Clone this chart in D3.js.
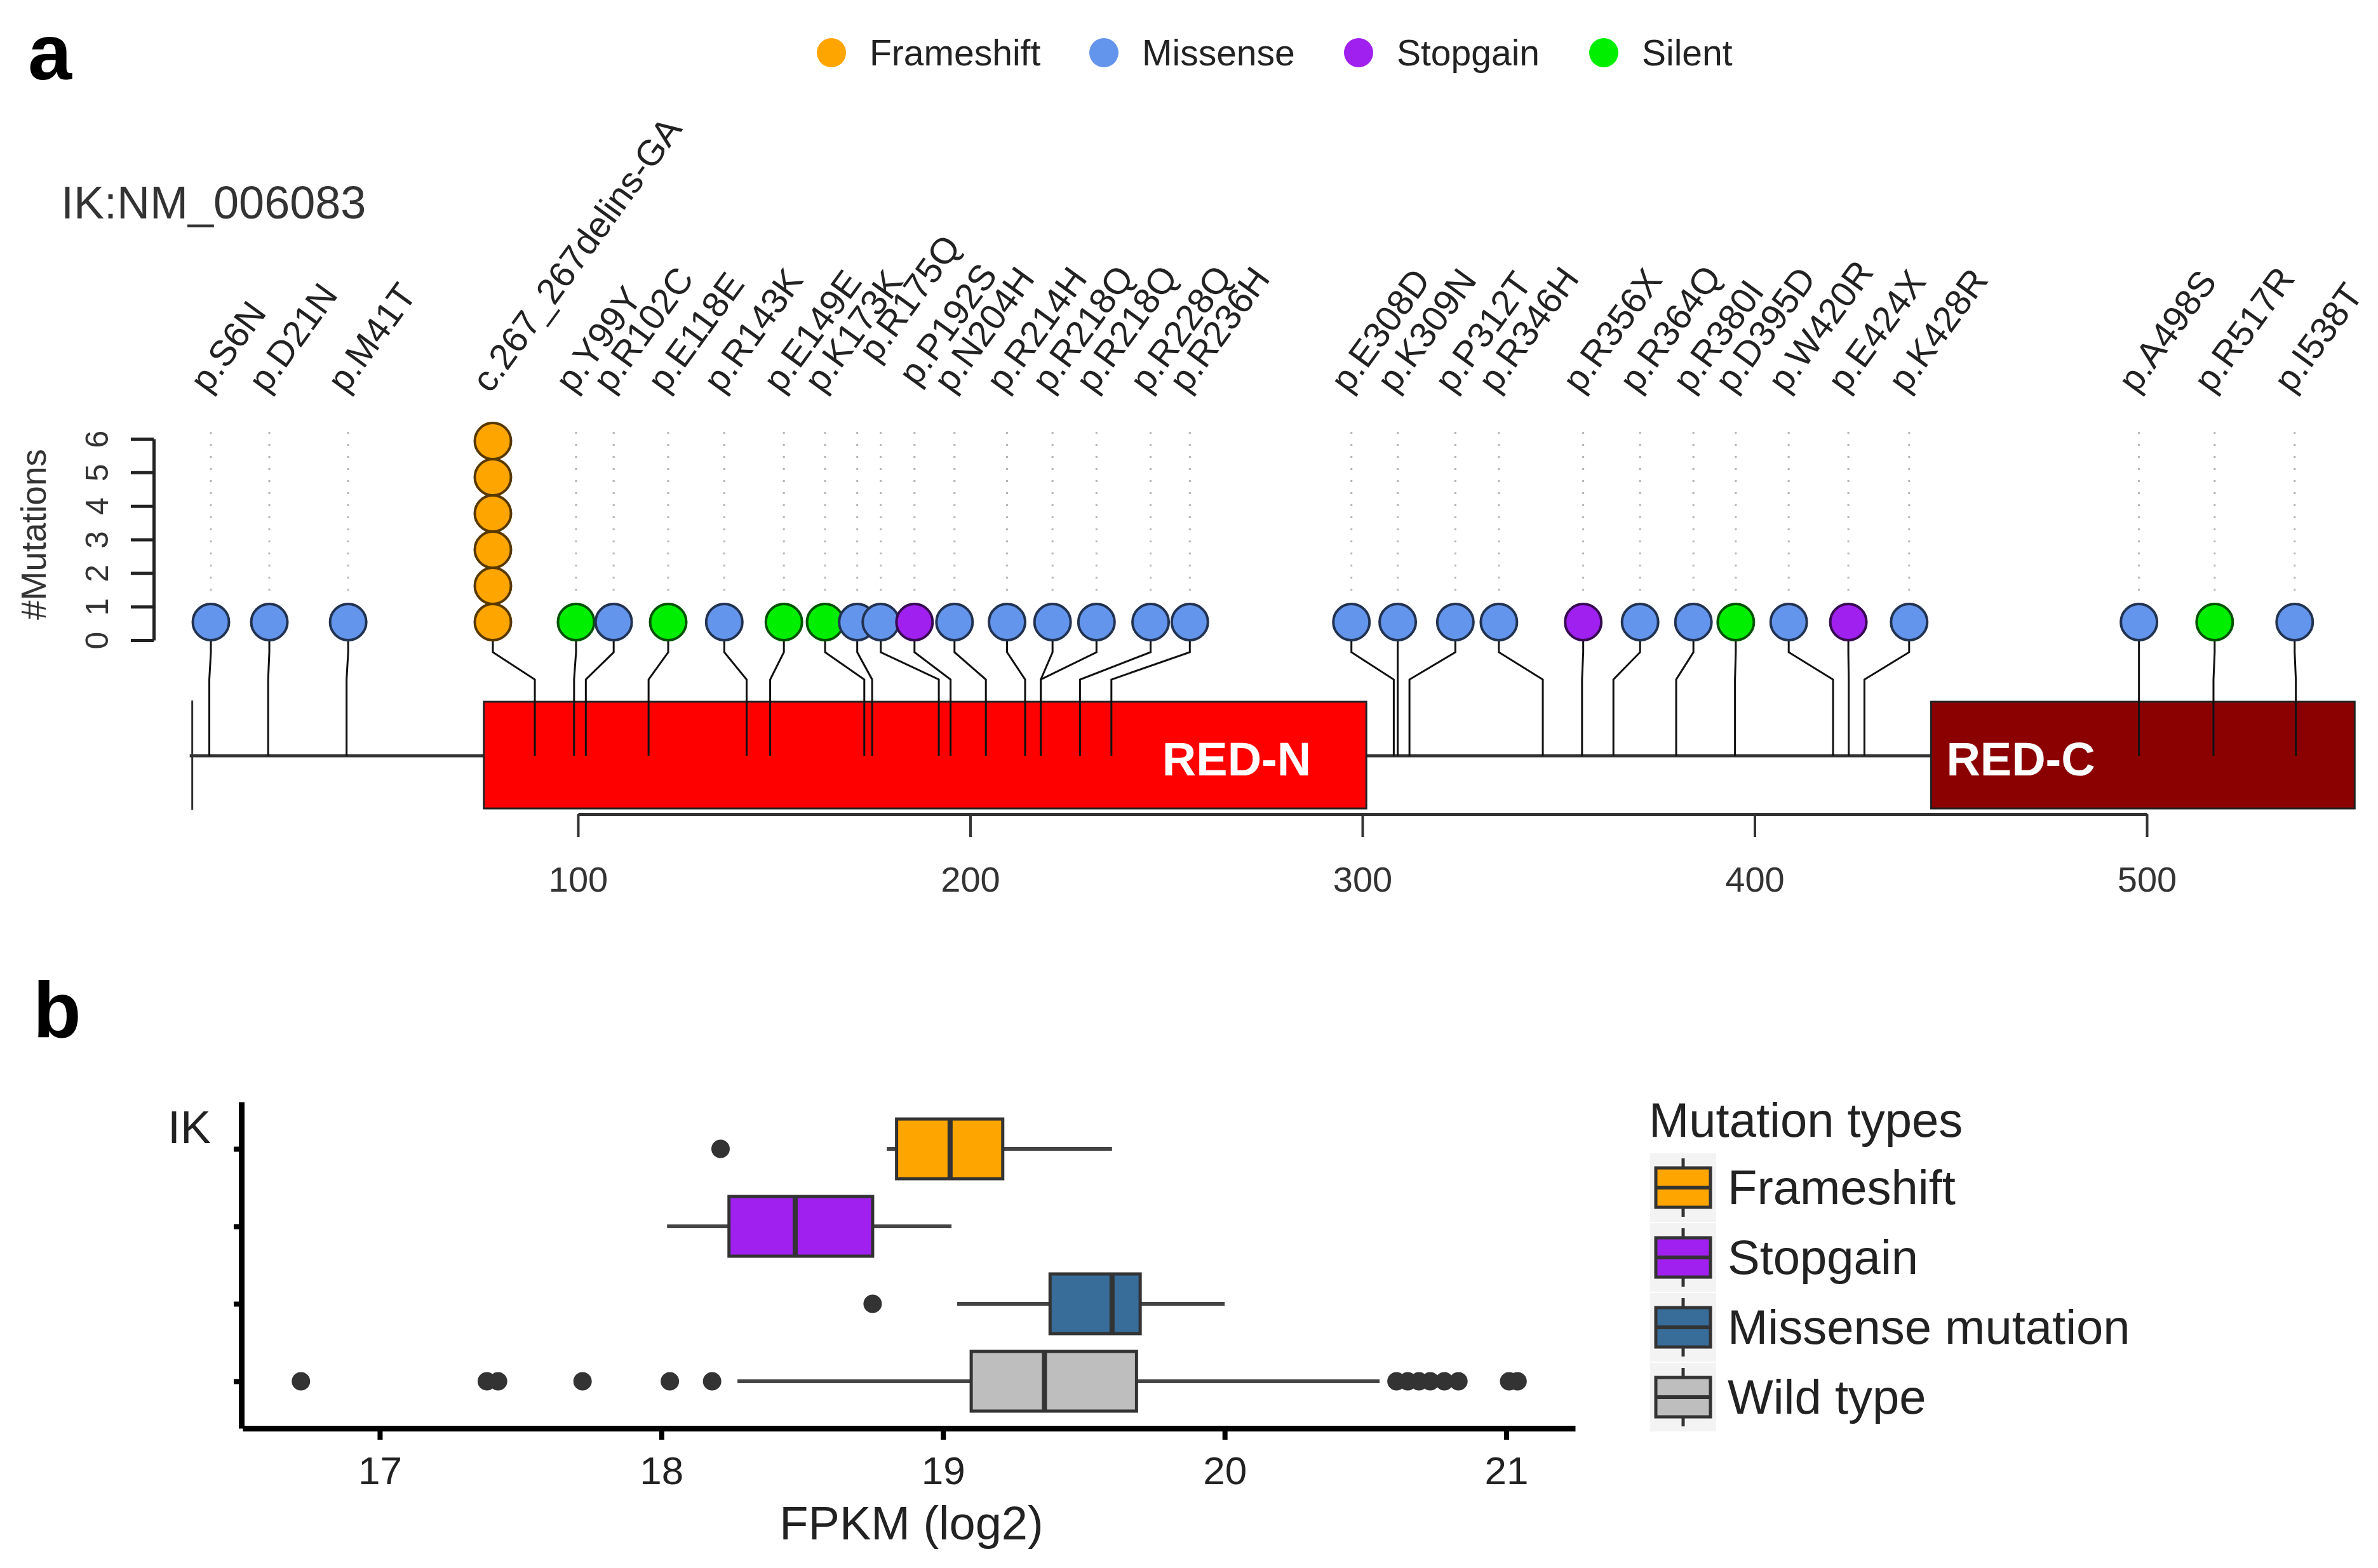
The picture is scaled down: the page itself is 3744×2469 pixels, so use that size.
<!DOCTYPE html>
<html><head><meta charset="utf-8">
<script src="https://cdn.jsdelivr.net/npm/d3@7/dist/d3.min.js"></script>
<style>body{margin:0;background:#fff}text{font-family:"Liberation Sans",Arial,Helvetica,sans-serif}</style>
</head><body>
<svg id="chart" width="3744" height="2469" xmlns="http://www.w3.org/2000/svg"></svg>
<script>
// ================= DATA : panel a (lollipop) =================
const typeNames  = ["Frameshift", "Missense", "Stopgain", "Silent"];
const typeColors = ["#FFA500", "#6495ED", "#A020F0", "#00EE00"];

const mutLabels = ["p.S6N","p.D21N","p.M41T","c.267_267delins-GA","p.Y99Y","p.R102C","p.E118E","p.R143K",
  "p.E149E","p.K173K","p.R175Q","","p.P192S","p.N204H","p.R214H","p.R218Q","p.R218Q","p.R228Q","p.R236H",
  "p.E308D","p.K309N","p.P312T","p.R346H","p.R356X","p.R364Q","p.R380I","p.D395D","p.W420R","p.E424X",
  "p.K428R","p.A498S","p.R517R","p.I538T"];
const mutTypes = ["Missense","Missense","Missense","Frameshift","Silent","Missense","Silent","Missense",
  "Silent","Silent","Missense","Missense","Stopgain","Missense","Missense","Missense","Missense","Missense","Missense",
  "Missense","Missense","Missense","Missense","Stopgain","Missense","Missense","Silent","Missense","Stopgain",
  "Missense","Missense","Silent","Missense"];
// residue where the stem meets the protein
const mutPositions = [6,21,41,89,99,102,118,143,149,173,175,192,195,204,214,218,218,228,236,
  308,309,312,346,356,364,380,395,420,424,428,498,517,538];
// residue column where the (de-overlapped) lollipop head is drawn
const mutColumns = [6.4,21.3,41.4,78.3,99.5,109.1,123,137.3,152.5,163,171.2,177.2,185.8,196,209.4,221,232.2,246,256,
  297.2,309,323.7,334.8,356.3,370.8,384.4,395.2,408.7,423.9,439.4,498,517.3,537.7];
const mutCounts = [1,1,1,6,1,1,1,1,1,1,1,1,1,1,1,1,1,1,1,1,1,1,1,1,1,1,1,1,1,1,1,1,1];

const domainNames = ["RED-N", "RED-C"];
const domainStart = [76, 445];
const domainEnd   = [301, 553];
const domainColors = ["#FF0000", "#8B0000"];
const proteinStart = 1, proteinEnd = 553;
const countTicks = [0,1,2,3,4,5,6];
const residueTicks = [100,200,300,400,500];
const transcriptName = "IK:NM_006083";

// ================= DATA : panel b (boxplot) =================
const boxGroups  = ["Frameshift", "Stopgain", "Missense mutation", "Wild type"];
const boxColors  = ["#FFA500", "#A020F0", "#386C99", "#BEBEBE"];
const whiskerLow = [18.80, 18.02, 19.05, 18.27];
const boxQ1      = [18.835, 18.24, 19.38, 19.10];
const boxMedian  = [19.025, 18.475, 19.60, 19.36];
const boxQ3      = [19.212, 18.75, 19.70, 19.687];
const whiskerHigh= [19.60, 19.03, 20.00, 20.55];
const boxOutliers = [
  [18.21],
  [],
  [18.75],
  [16.72,17.38,17.42,17.72,18.03,18.18,20.61,20.65,20.69,20.73,20.78,20.83,21.01,21.04]
];
const fpkmTicks = [17,18,19,20,21];
const geneName = "IK";

// ================= DRAWING =================
const svg = d3.select("#chart");
const FONT = '"Liberation Sans",Arial,Helvetica,sans-serif';

// panel letters
svg.append("text").attr("x", 44).attr("y", 125).attr("font-size", 124).attr("font-weight", "bold").text("a");
svg.append("text").attr("x", 52).attr("y", 1633).attr("font-size", 124).attr("font-weight", "bold").text("b");

// ---------- panel a ----------
const xAA  = d3.scaleLinear().domain([100, 500]).range([910, 3380]);
const yCnt = d3.scaleLinear().domain([0, 6]).range([1008, 691]);
const color = d3.scaleOrdinal().domain(typeNames).range(typeColors);
const R = 28.5;
const backboneY = 1190, boxTop = 1105, boxBot = 1273;
const bendY1 = 1027, bendY2 = 1070;
const labelY = 621, labelAngle = 54;

// top legend
const legA = svg.append("g");
const legX = [1309, 1738, 2139, 2525];
typeNames.forEach((t, i) => {
  legA.append("circle").attr("cx", legX[i]).attr("cy", 83).attr("r", 23).attr("fill", color(t));
  legA.append("text").attr("x", legX[i] + 60).attr("y", 103).attr("font-size", 57).attr("fill", "#222").text(t);
});

svg.append("text").attr("x", 96).attr("y", 344).attr("font-size", 72).attr("fill", "#333").text(transcriptName);

// y axis (#Mutations)
const yAxA = svg.append("g").attr("transform", "translate(242,0)")
  .call(d3.axisLeft(yCnt).tickValues(countTicks).tickSize(36).tickSizeOuter(0).tickFormat(d3.format("d")));
yAxA.select(".domain").attr("stroke", "#222").attr("stroke-width", 5);
yAxA.selectAll(".tick line").attr("stroke", "#222").attr("stroke-width", 5);
yAxA.selectAll(".tick text").attr("transform", "rotate(-90)").attr("x", 0).attr("y", -72).attr("dy", 0)
  .attr("text-anchor", "middle").attr("font-size", 50).attr("fill", "#333").attr("font-family", FONT);
svg.append("text").attr("transform", `translate(72,${(yCnt(0) + yCnt(6)) / 2 - 8}) rotate(-90)`)
  .attr("text-anchor", "middle").attr("font-size", 55).attr("fill", "#333").text("#Mutations");

// backbone
svg.append("line").attr("x1", xAA(proteinStart)).attr("x2", xAA(proteinEnd))
  .attr("y1", backboneY).attr("y2", backboneY).attr("stroke", "#333").attr("stroke-width", 5);
svg.append("line").attr("x1", xAA(proteinStart) + 4).attr("x2", xAA(proteinStart) + 4)
  .attr("y1", boxTop - 2).attr("y2", boxBot + 2).attr("stroke", "#333").attr("stroke-width", 3);

// domains
domainNames.forEach((d, i) => {
  svg.append("rect").attr("x", xAA(domainStart[i])).attr("y", boxTop)
    .attr("width", xAA(domainEnd[i]) - xAA(domainStart[i])).attr("height", boxBot - boxTop)
    .attr("fill", domainColors[i]).attr("stroke", "#222").attr("stroke-width", 3);
});

// bottom residue axis
const xAxA = svg.append("g").attr("transform", "translate(0,1282)")
  .call(d3.axisBottom(xAA).tickValues(residueTicks).tickSize(36).tickSizeOuter(0).tickPadding(46));
xAxA.select(".domain").attr("stroke", "#333").attr("stroke-width", 5);
xAxA.selectAll(".tick line").attr("stroke", "#333").attr("stroke-width", 4);
xAxA.selectAll(".tick text").attr("font-size", 56).attr("fill", "#333").attr("font-family", FONT);

// build mutation records
const muts = mutLabels.map((l, i) => ({label: l, type: mutTypes[i], pos: mutPositions[i], col: mutColumns[i], n: mutCounts[i]}));
const labelNudge = {"p.R175Q": 59, "p.P192S": 13};

// dotted guides
muts.forEach(m => {
  const top = yCnt(0) - m.n * 2 * R;
  if (top - 17 > 680) {
    svg.append("line").attr("x1", xAA(m.col)).attr("x2", xAA(m.col)).attr("y1", 680).attr("y2", top - 17)
      .attr("stroke", "#b5b5b5").attr("stroke-width", 3).attr("stroke-dasharray", "3,16");
  }
});

// stems
muts.forEach(m => {
  const xc = xAA(m.col), xp = xAA(m.pos);
  const p = d3.path();
  p.moveTo(xc, yCnt(0)); p.lineTo(xc, bendY1); p.lineTo(xp, bendY2); p.lineTo(xp, backboneY);
  svg.append("path").attr("d", p.toString()).attr("fill", "none").attr("stroke", "#111").attr("stroke-width", 3);
});

// heads
muts.forEach(m => {
  d3.range(1, m.n + 1).forEach(k => {
    svg.append("circle").attr("cx", xAA(m.col)).attr("cy", yCnt(0) - (k - 0.5) * 2 * R).attr("r", R)
      .attr("fill", color(m.type)).attr("stroke", d3.color(color(m.type)).darker(3)).attr("stroke-width", 4);
  });
});

// labels
const rad = labelAngle * Math.PI / 180;
muts.forEach(m => {
  if (!m.label) return;
  const s = labelNudge[m.label] || 0;
  const ax = xAA(m.col) - 4 + s * Math.cos(rad), ay = labelY - s * Math.sin(rad);
  svg.append("text").attr("transform", `translate(${ax},${ay}) rotate(${-labelAngle})`)
    .attr("font-size", 57).attr("fill", "#222").text(m.label);
});

// domain labels
svg.append("text").attr("x", xAA(domainEnd[0]) - 87).attr("y", 1221).attr("text-anchor", "end")
  .attr("font-size", 74).attr("font-weight", "bold").attr("fill", "#fff").text(domainNames[0]);
svg.append("text").attr("x", xAA(domainStart[1]) + 24).attr("y", 1221).attr("text-anchor", "start")
  .attr("font-size", 74).attr("font-weight", "bold").attr("fill", "#fff").text(domainNames[1]);

// ---------- panel b ----------
const xB = d3.scaleLinear().domain([16.513, 21.2445]).range([382, 2480]);
const yB = d3.scalePoint().domain(boxGroups).range([1735, 2249]).padding(0.607);
const boxH = 94;

const xAxB = svg.append("g").attr("transform", "translate(0,2249)")
  .call(d3.axisBottom(xB).tickValues(fpkmTicks).tickSize(18).tickSizeOuter(0).tickPadding(26).tickFormat(d3.format("d")));
xAxB.select(".domain").attr("stroke", "#000").attr("stroke-width", 9);
xAxB.selectAll(".tick line").attr("stroke", "#000").attr("stroke-width", 8);
xAxB.selectAll(".tick text").attr("font-size", 62).attr("fill", "#222").attr("font-family", FONT);

const yAxB = svg.append("g").attr("transform", "translate(380,0)")
  .call(d3.axisLeft(yB).tickSize(12).tickSizeOuter(0).tickFormat(""));
yAxB.select(".domain").attr("stroke", "#000").attr("stroke-width", 9);
yAxB.selectAll(".tick line").attr("stroke", "#000").attr("stroke-width", 8);

svg.append("text").attr("x", 332).attr("y", 1800).attr("text-anchor", "end").attr("font-size", 72)
  .attr("fill", "#222").text(geneName);
svg.append("text").attr("x", 1435).attr("y", 2424).attr("text-anchor", "middle").attr("font-size", 74)
  .attr("fill", "#222").text("FPKM (log2)");

boxGroups.forEach((g, i) => {
  const cy = yB(g);
  const gg = svg.append("g");
  gg.append("line").attr("x1", xB(whiskerLow[i])).attr("x2", xB(boxQ1[i])).attr("y1", cy).attr("y2", cy)
    .attr("stroke", "#444").attr("stroke-width", 6);
  gg.append("line").attr("x1", xB(boxQ3[i])).attr("x2", xB(whiskerHigh[i])).attr("y1", cy).attr("y2", cy)
    .attr("stroke", "#444").attr("stroke-width", 6);
  gg.append("rect").attr("x", xB(boxQ1[i])).attr("y", cy - boxH / 2).attr("width", xB(boxQ3[i]) - xB(boxQ1[i]))
    .attr("height", boxH).attr("fill", boxColors[i]).attr("stroke", "#333").attr("stroke-width", 5);
  gg.append("line").attr("x1", xB(boxMedian[i])).attr("x2", xB(boxMedian[i])).attr("y1", cy - boxH / 2).attr("y2", cy + boxH / 2)
    .attr("stroke", "#333").attr("stroke-width", 8);
  boxOutliers[i].forEach(v => {
    gg.append("circle").attr("cx", xB(v)).attr("cy", cy).attr("r", 14.5).attr("fill", "#333");
  });
});

// legend b
const legB = svg.append("g");
legB.append("text").attr("x", 2596).attr("y", 1790).attr("font-size", 76).attr("fill", "#222").text("Mutation types");
boxGroups.forEach((g, i) => {
  const cy = 1870 + i * 110;
  legB.append("rect").attr("x", 2598).attr("y", cy - 54).attr("width", 104).attr("height", 108).attr("fill", "#f3f3f3");
  legB.append("line").attr("x1", 2650).attr("x2", 2650).attr("y1", cy - 46).attr("y2", cy + 46)
    .attr("stroke", "#333").attr("stroke-width", 5);
  legB.append("rect").attr("x", 2607).attr("y", cy - 31).attr("width", 86).attr("height", 62)
    .attr("fill", boxColors[i]).attr("stroke", "#333").attr("stroke-width", 5);
  legB.append("line").attr("x1", 2607).attr("x2", 2693).attr("y1", cy).attr("y2", cy)
    .attr("stroke", "#333").attr("stroke-width", 6);
  legB.append("text").attr("x", 2720).attr("y", cy + 26).attr("font-size", 76).attr("fill", "#222").text(g);
});
</script>
</body></html>
